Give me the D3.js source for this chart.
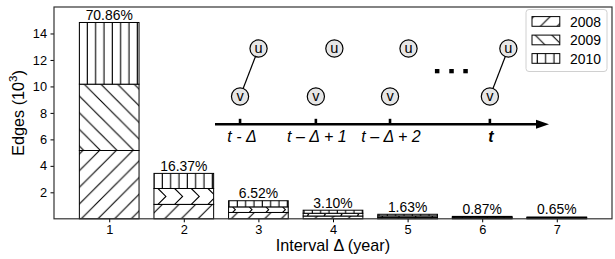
<!DOCTYPE html>
<html><head><meta charset="utf-8">
<script src="https://cdn.jsdelivr.net/npm/d3@7"></script>
<style>
html,body{margin:0;padding:0;background:#fff;}
svg{display:block;font-family:"Liberation Sans",Arial,Helvetica,sans-serif;}
</style></head>
<body>
<svg id="chart" width="615" height="259"></svg>
<script>
// ---- data ----
const years = ["2008", "2009", "2010"];
const intervals = [1, 2, 3, 4, 5, 6, 7];
const edges2008 = [5.16, 1.09, 0.48, 0.21, 0.11, 0.06, 0.045];
const edges2009 = [5.01, 1.20, 0.42, 0.21, 0.11, 0.06, 0.045];
const edges2010 = [4.66, 1.14, 0.465, 0.229, 0.122, 0.062, 0.046];
const percentLabels = ["70.86%", "16.37%", "6.52%", "3.10%", "1.63%", "0.87%", "0.65%"];
const yTicks = [2, 4, 6, 8, 10, 12, 14];
const timeLabels = ["t - \u0394", "t \u2013 \u0394 + 1", "t \u2013 \u0394 + 2", "t"];

// ---- layout ----
const L = 54, R = 612, T = 7, B = 218.8;
const svg = d3.select("#chart");
const x = d3.scaleLinear().domain([0.26, 7.74]).range([L, R]);
const y = d3.scaleLinear().domain([0, 16]).range([B, T]);
const barW = x(0.8) - x(0);
const P = 16.67, PV = 8.333;

// ---- hatch patterns ----
const defs = svg.append("defs");
function pat(id, w, h, draw) {
  const p = defs.append("pattern").attr("id", id).attr("patternUnits", "userSpaceOnUse")
    .attr("width", w).attr("height", h);
  p.append("rect").attr("width", w).attr("height", h).attr("fill", "#fff");
  draw(p);
}
function ln(p, x1, y1, x2, y2) {
  p.append("line").attr("x1", x1).attr("y1", y1).attr("x2", x2).attr("y2", y2)
    .attr("stroke", "#000").attr("stroke-width", 1.1);
}
pat("h2008", P, P, p => { ln(p, -2, P + 2, P + 2, -2); ln(p, -2, 2, 2, -2); ln(p, P - 2, P + 2, P + 2, P - 2); });
pat("h2009", P, P, p => { ln(p, -2, -2, P + 2, P + 2); ln(p, P - 2, -2, P + 2, 2); ln(p, -2, P - 2, 2, P + 2); });
pat("h2010", PV, 10, p => { ln(p, 4, -1, 4, 11); });

const series = [edges2008, edges2009, edges2010];
const stacked = intervals.map((iv, i) => {
  let acc = 0;
  return series.map((s, k) => { const y0 = acc; acc += s[i]; return {iv, i, k, y0, y1: acc}; });
});

const gBars = svg.append("g");
let clipId = 0;
stacked.forEach(segs => {
  segs.forEach(s => {
    const x0 = x(s.iv) - barW / 2, yt = y(s.y1), yb = y(s.y0), h = yb - yt;
    if (s.k === 1 && s.i > 0) {
      // chevron-looking hatch in small 2009 segments
      const id = "c" + (clipId++);
      defs.append("clipPath").attr("id", id).append("rect")
        .attr("x", x0).attr("y", yt).attr("width", barW).attr("height", h);
      const g = gBars.append("g").attr("clip-path", `url(#${id})`);
      g.append("rect").attr("x", x0).attr("y", yt).attr("width", barW).attr("height", h).attr("fill", "#fff");
      const half = h / 2;
      for (let a = x0 - P + 4; a < x0 + barW + P; a += P) {
        g.append("polyline").attr("points", `${a},${yt} ${a + half},${yt + half} ${a},${yb}`)
          .attr("fill", "none").attr("stroke", "#000").attr("stroke-width", 1.1);
      }
      gBars.append("rect").attr("x", x0).attr("y", yt).attr("width", barW).attr("height", h)
        .attr("fill", "none").attr("stroke", "#000").attr("stroke-width", 1);
    } else {
      gBars.append("rect").attr("x", x0).attr("y", yt).attr("width", barW).attr("height", h)
        .attr("fill", `url(#h${years[s.k]})`).attr("stroke", "#000").attr("stroke-width", 1);
    }
  });
});

// percent labels
svg.append("g").selectAll("text").data(intervals).join("text")
  .attr("x", d => x(d)).attr("y", (d, i) => y(stacked[i][2].y1) - 2.5)
  .attr("text-anchor", "middle").attr("font-size", 13.9).attr("fill", "#000")
  .text((d, i) => percentLabels[i]);

// axes
const yAxis = svg.append("g").attr("transform", `translate(${L},0)`)
  .call(d3.axisLeft(y).tickValues(yTicks).tickSize(3.5).tickPadding(3.5));
const xAxis = svg.append("g").attr("transform", `translate(0,${B})`)
  .call(d3.axisBottom(x).tickValues(intervals).tickSize(3.5).tickPadding(3));
[yAxis, xAxis].forEach(a => {
  a.select(".domain").remove();
  a.selectAll("text").attr("font-size", 12.8).attr("fill", "#000")
    .attr("font-family", "Liberation Sans, Arial, sans-serif");
  a.selectAll("line").attr("stroke", "#000");
});

// frame
svg.append("rect").attr("x", L).attr("y", T).attr("width", R - L).attr("height", B - T)
  .attr("fill", "none").attr("stroke", "#333").attr("stroke-width", 1.2);

// axis labels
const yl = svg.append("text").attr("transform", `translate(24,${(T + B) / 2}) rotate(-90)`)
  .attr("text-anchor", "middle").attr("font-size", 16.2).attr("fill", "#000");
yl.append("tspan").text("Edges (10");
yl.append("tspan").attr("font-size", 11.5).attr("dy", -7).text("3");
yl.append("tspan").attr("dy", 7).text(")");
svg.append("text").attr("x", (L + R) / 2).attr("y", 251).attr("text-anchor", "middle")
  .attr("font-size", 16.2).attr("fill", "#000").text("Interval \u0394 (year)");

// legend
const lg = svg.append("g");
lg.append("rect").attr("x", 526).attr("y", 9.5).attr("width", 81).attr("height", 62)
  .attr("rx", 3).attr("fill", "#fff").attr("fill-opacity", 0.85).attr("stroke", "#d0d0d0");
years.forEach((yr, k) => {
  const cy = 21.5 + k * 18.5;
  lg.append("rect").attr("x", 532).attr("y", cy - 4.9).attr("width", 27.8).attr("height", 9.7)
    .attr("fill", `url(#h${yr})`).attr("stroke", "#000").attr("stroke-width", 1);
  lg.append("text").attr("x", 570).attr("y", cy + 5).attr("font-size", 13.9).attr("fill", "#000").text(yr);
});

// ---- inset timeline diagram ----
const inset = svg.append("g");
const tx = d3.scaleLinear().domain([0, 1]).range([215, 549]);
const slots = [0.075, 0.302, 0.524, 0.823];
const ay = 124.3;
inset.append("line").attr("x1", tx(0)).attr("x2", tx(1) - 10).attr("y1", ay).attr("y2", ay)
  .attr("stroke", "#000").attr("stroke-width", 2.6);
inset.append("path").attr("d", `M${tx(1)},${ay} L${tx(1) - 13},${ay - 4.5} L${tx(1) - 13},${ay + 4.5} Z`).attr("fill", "#000");
slots.forEach((s, i) => {
  const cx = tx(s);
  inset.append("line").attr("x1", cx).attr("x2", cx).attr("y1", ay - 5.5).attr("y2", ay)
    .attr("stroke", "#000").attr("stroke-width", 2.6);
  inset.append("text").attr("x", cx + (i === 0 ? 2 : 1)).attr("y", ay + 18)
    .attr("text-anchor", "middle").attr("font-size", 16).attr("font-style", "italic")
    .attr("font-weight", i === 3 ? "bold" : "normal").attr("fill", "#000").text(timeLabels[i]);
});
const vy = 96.5, uy = 48.5, r = 8.6, uOff = 18.5;
const linked = [0, 3];
linked.forEach(i => {
  const x1 = tx(slots[i]), x2 = tx(slots[i]) + uOff;
  const dx = x2 - x1, dy = uy - vy, len = Math.hypot(dx, dy);
  inset.append("line").attr("x1", x1 + dx / len * r).attr("y1", vy + dy / len * r)
    .attr("x2", x2 - dx / len * r).attr("y2", uy - dy / len * r)
    .attr("stroke", "#000").attr("stroke-width", 1.2);
});
slots.forEach(s => {
  [["v", tx(s), vy], ["u", tx(s) + uOff, uy]].forEach(([lab, cx, cy]) => {
    inset.append("circle").attr("cx", cx).attr("cy", cy).attr("r", r)
      .attr("fill", "#e6e6e6").attr("stroke", "#000").attr("stroke-width", 1.2);
    inset.append("text").attr("x", cx).attr("y", cy + 4.5).attr("text-anchor", "middle")
      .attr("font-size", 14.5).attr("fill", "#000").text(lab);
  });
});
[0.665, 0.708, 0.75].forEach(s => {
  inset.append("rect").attr("x", tx(s) - 2.2).attr("y", 69).attr("width", 4.5).attr("height", 4.3).attr("fill", "#000");
});
</script>
</body></html>
